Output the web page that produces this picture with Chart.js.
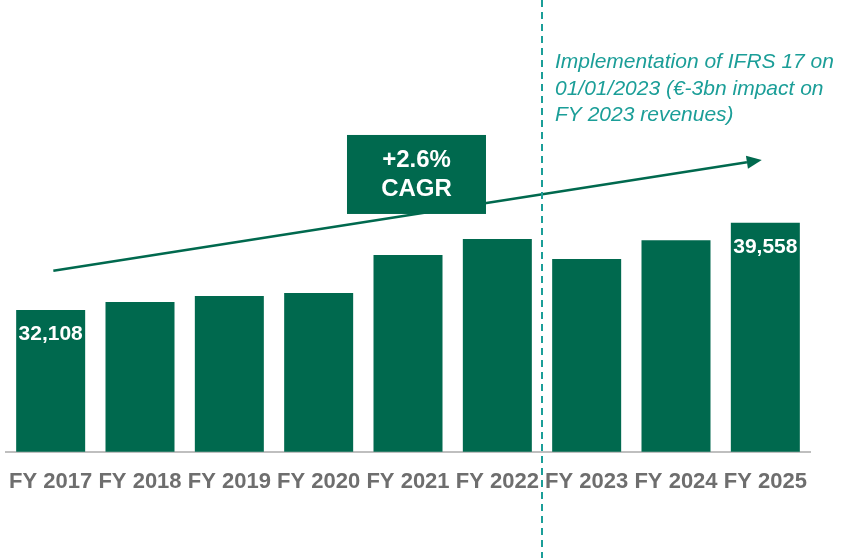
<!DOCTYPE html>
<html>
<head>
<meta charset="utf-8">
<script src="https://cdn.jsdelivr.net/npm/chart.js@4/dist/chart.umd.min.js"></script>
<style>
  html, body { margin: 0; padding: 0; background: #ffffff; }
  #wrap { width: 841px; height: 558px; position: relative; }
</style>
</head>
<body>
<div id="wrap"><canvas id="c" width="841" height="558"></canvas></div>
<script>
const categories = ["FY 2017", "FY 2018", "FY 2019", "FY 2020", "FY 2021", "FY 2022", "FY 2023", "FY 2024", "FY 2025"];
const revenues = [32108, 32790, 33300, 33560, 36810, 38180, 36470, 38060, 39558];
const labelledIndexes = [0, 8];
const cagrText = ["+2.6%", "CAGR"];
const noteText = ["Implementation of IFRS 17 on", "01/01/2023 (€-3bn impact on", "FY 2023 revenues)"];
const arrowFrom = { x: 0.03, y: 35470 };
const arrowTo = { x: 7.96, y: 44930 };
const boxCenter = { x: 4.095, y: 43690 };
const dividerAfterIndex = 5;

const GREEN = "#00694E";
const TEAL = "#1B9E98";
const GREY = "#6E6E6E";
const FONT = "'Liberation Sans', Arial, sans-serif";

const annotations = {
  id: "annotations",
  afterDatasetsDraw(chart) {
    const ctx = chart.ctx;
    const xs = chart.scales.x, ys = chart.scales.y;
    const meta = chart.getDatasetMeta(0);
    ctx.save();
    // data labels
    ctx.fillStyle = "#ffffff";
    ctx.font = "bold 21px " + FONT;
    ctx.textAlign = "center";
    ctx.textBaseline = "middle";
    labelledIndexes.forEach(i => {
      const bar = meta.data[i];
      ctx.fillText(revenues[i].toLocaleString("en-US"), bar.x, bar.y + 24);
    });
    // arrow
    const x1 = xs.getPixelForValue(arrowFrom.x), y1 = ys.getPixelForValue(arrowFrom.y);
    const x2 = xs.getPixelForValue(arrowTo.x), y2 = ys.getPixelForValue(arrowTo.y);
    const ang = Math.atan2(y2 - y1, x2 - x1);
    const headLen = 15, headW = 6.5;
    const bx = x2 - headLen * Math.cos(ang), by = y2 - headLen * Math.sin(ang);
    ctx.strokeStyle = GREEN;
    ctx.lineWidth = 2.5;
    ctx.beginPath();
    ctx.moveTo(x1, y1);
    ctx.lineTo(bx, by);
    ctx.stroke();
    ctx.fillStyle = GREEN;
    ctx.beginPath();
    ctx.moveTo(x2, y2);
    ctx.lineTo(bx + headW * Math.sin(ang), by - headW * Math.cos(ang));
    ctx.lineTo(bx - headW * Math.sin(ang), by + headW * Math.cos(ang));
    ctx.closePath();
    ctx.fill();
    // CAGR box
    const cx = xs.getPixelForValue(boxCenter.x), cy = ys.getPixelForValue(boxCenter.y);
    const bw = 139, bh = 79;
    ctx.fillStyle = GREEN;
    ctx.fillRect(cx - bw / 2, cy - bh / 2, bw, bh);
    ctx.fillStyle = "#ffffff";
    ctx.font = "bold 24px " + FONT;
    ctx.textAlign = "center";
    ctx.textBaseline = "alphabetic";
    ctx.fillText(cagrText[0], cx, cy - 7.5);
    ctx.fillText(cagrText[1], cx, cy + 21.5);
    // divider
    const dx = (xs.getPixelForValue(dividerAfterIndex) + xs.getPixelForValue(dividerAfterIndex + 1)) / 2;
    ctx.strokeStyle = TEAL;
    ctx.lineWidth = 2;
    ctx.setLineDash([7, 5]);
    ctx.beginPath();
    ctx.moveTo(dx, 0);
    ctx.lineTo(dx, chart.height);
    ctx.stroke();
    ctx.setLineDash([]);
    // note
    ctx.fillStyle = TEAL;
    ctx.font = "italic 21px " + FONT;
    ctx.textAlign = "left";
    noteText.forEach((t, k) => ctx.fillText(t, dx + 13, 68 + k * 26.5));
    ctx.restore();
  }
};

new Chart(document.getElementById("c"), {
  type: "bar",
  data: {
    labels: categories,
    datasets: [{
      data: revenues,
      backgroundColor: GREEN,
      borderWidth: 0,
      categoryPercentage: 1.0,
      barPercentage: 0.7724
    }]
  },
  options: {
    responsive: false,
    animation: false,
    devicePixelRatio: 1,
    layout: { padding: { top: 7, left: 6, right: 31, bottom: 0 } },
    plugins: { legend: { display: false }, tooltip: { enabled: false }, title: { display: false } },
    scales: {
      x: {
        grid: { display: false, drawTicks: false },
        border: { display: true, color: "#BFBFBF", width: 2 },
        ticks: {
          color: GREY,
          font: { family: FONT, size: 22, weight: "bold", lineHeight: 2.72 },
          padding: 0,
          autoSkip: false,
          maxRotation: 0
        },
        afterFit(scale) { scale.height = 106.3; }
      },
      y: {
        display: false,
        min: 20000,
        max: 58000
      }
    }
  },
  plugins: [annotations]
});
</script>
</body>
</html>
